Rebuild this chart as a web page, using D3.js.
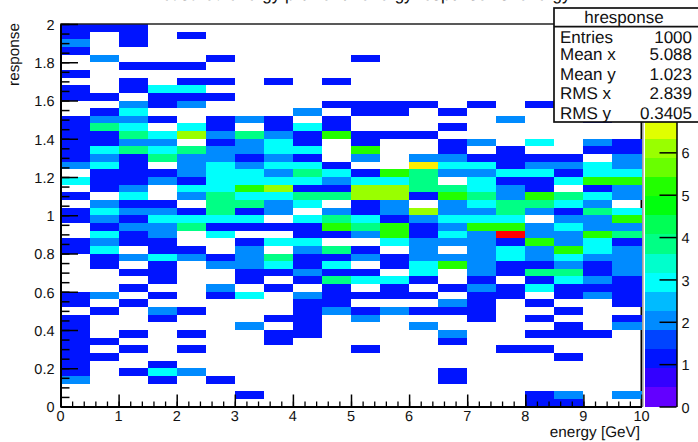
<!DOCTYPE html>
<html>
<head>
<meta charset="utf-8">
<script src="https://cdn.jsdelivr.net/npm/d3@7"></script>
<style>
  html, body { margin: 0; padding: 0; background: #fff; }
  svg { display: block; }
  text { font-family: "Liberation Sans", sans-serif; fill: #111; text-rendering: geometricPrecision; }
  .cell { shape-rendering: crispEdges; }
  .tick line, .domain { stroke: #000; }
</style>
</head>
<body>
<div id="chart"></div>
<script>
// bin counts of hresponse, top row is response 1.96-2.00, columns are energy 0-10 in 0.5 steps
const counts = [
  [1,1,1,0,0,0,0,0,0,0,0,0,0,0,0,0,0,0,0,0],
  [1,0,1,0,1,0,0,0,0,0,0,0,0,0,0,0,0,0,0,0],
  [2,0,1,0,0,0,0,0,0,0,0,0,0,0,0,0,0,0,0,0],
  [1,0,0,0,0,0,0,0,0,0,0,0,0,0,0,0,0,0,0,0],
  [0,2,0,0,0,1,0,0,0,0,1,0,0,0,0,0,0,0,0,0],
  [0,0,1,1,1,0,0,0,0,0,0,0,0,0,0,0,0,0,0,0],
  [1,0,0,0,0,0,0,0,0,0,0,0,0,0,0,0,0,0,0,0],
  [0,0,1,0,1,1,0,1,0,1,0,0,0,0,0,0,0,0,0,0],
  [1,0,1,3,3,0,0,0,0,0,0,0,0,0,0,0,0,0,0,0],
  [1,1,0,1,1,1,0,0,0,0,0,0,0,0,0,0,0,0,0,0],
  [0,0,2,1,2,0,0,0,0,1,1,1,1,0,1,0,1,0,0,0],
  [0,1,3,0,0,0,0,0,2,0,1,1,0,1,0,0,0,0,0,0],
  [1,2,2,1,0,1,2,1,0,1,0,0,0,0,0,2,0,0,1,0],
  [1,4,3,0,3,1,0,1,3,1,0,0,0,1,0,0,0,0,0,0],
  [1,1,4,3,6,2,4,2,1,5,1,1,1,0,0,0,0,0,0,0],
  [1,1,2,2,0,1,2,3,1,0,1,0,0,1,2,0,3,0,2,1],
  [1,3,4,3,4,2,2,3,3,0,5,0,0,1,0,1,0,0,1,1],
  [1,2,1,4,2,2,1,2,1,0,2,0,2,2,1,1,1,1,0,2],
  [2,3,1,0,2,3,2,3,3,1,0,0,7,3,3,1,2,2,3,2],
  [0,1,1,1,2,3,3,2,4,3,1,5,4,2,2,3,3,1,3,3],
  [3,1,1,2,1,3,3,3,3,2,3,3,4,0,3,1,1,3,5,5],
  [0,1,2,0,3,3,5,6,1,1,6,6,4,4,3,2,1,0,1,2],
  [1,0,3,0,2,4,3,3,4,4,6,6,1,5,4,2,5,4,3,2],
  [0,2,1,1,0,4,4,2,3,0,1,2,0,2,3,4,4,3,2,0],
  [1,3,2,2,1,4,1,2,0,2,1,2,6,2,2,4,2,1,4,3],
  [1,2,1,3,3,3,3,0,3,4,3,1,2,3,3,3,0,2,2,5],
  [0,1,2,2,4,1,1,1,1,5,4,5,1,2,5,5,2,3,2,2],
  [0,3,1,2,0,3,0,0,1,1,2,5,1,3,2,9,2,2,5,4],
  [1,2,1,1,0,0,1,3,3,0,0,3,2,2,2,1,5,2,3,1],
  [1,3,0,1,1,0,2,0,2,4,1,0,2,0,2,3,2,5,3,2],
  [0,1,2,3,2,1,2,4,1,1,2,1,2,2,2,3,2,3,2,2],
  [0,1,0,1,0,2,2,3,1,3,0,1,3,5,2,1,1,2,1,2],
  [0,0,1,1,0,0,1,1,2,1,1,0,3,0,2,1,4,4,1,2],
  [0,0,0,1,0,0,1,0,1,4,3,3,1,0,1,0,1,3,2,1],
  [0,0,1,0,0,2,0,1,0,1,0,1,0,1,2,1,3,1,1,1],
  [1,2,0,1,0,1,3,0,2,1,1,1,1,0,1,1,0,1,2,1],
  [1,0,1,0,0,0,0,0,1,1,0,0,0,2,1,0,1,0,0,1],
  [0,1,0,2,1,0,0,0,1,2,1,2,1,1,1,0,0,1,0,0],
  [1,0,0,1,0,0,0,1,1,0,2,0,0,0,1,0,1,0,0,1],
  [1,0,0,0,0,0,2,0,1,0,0,0,2,0,0,0,0,1,0,2],
  [1,0,1,0,1,0,0,1,1,0,0,0,0,2,0,0,1,1,1,0],
  [1,1,0,0,0,0,0,1,0,0,0,0,0,1,0,0,0,0,0,0],
  [1,0,1,0,1,0,0,0,0,0,1,0,0,0,0,1,1,0,0,0],
  [1,1,0,0,0,0,0,0,0,0,0,0,0,0,0,0,0,1,0,0],
  [1,0,0,1,0,0,0,0,0,0,0,0,0,0,0,0,0,0,0,0],
  [1,0,1,3,2,0,0,0,0,0,0,0,0,1,0,0,0,0,0,0],
  [2,0,0,1,0,1,0,0,0,0,0,0,0,1,0,0,0,0,0,0],
  [0,0,0,0,0,0,0,0,0,0,0,0,0,0,0,0,0,0,0,0],
  [0,0,0,0,0,0,1,0,0,0,0,0,0,0,0,0,1,2,0,2],
  [0,0,0,0,0,0,0,0,0,0,0,0,0,0,0,0,1,1,0,0]
];

const xTicks = [0,1,2,3,4,5,6,7,8,9,10];
const yTicks = [0,0.2,0.4,0.6,0.8,1,1.2,1.4,1.6,1.8,2];
const zTicks = [0,1,2,3,4,5,6];
const statNames = ["Entries","Mean x","Mean y","RMS x","RMS y"];
const statValues = ["1000","5.088","1.023","2.839","0.3405"];

const width = 698, height = 442;
const binW = 0.5, binH = 0.04;
const zMax = 9.03, nLevels = 20;
const statBaselines = [42.7, 60, 80, 99, 119];

// same as the old root rainbow palette, 50 colours picked down to 20 levels
const palette = d3.range(nLevels).map((l) => {
  const i = Math.floor((l + 0.99) * 50 / nLevels);
  return d3.hsl(280 - (i + 1) * 5.6, 1, 0.5).formatHex();
});

const x = d3.scaleLinear().domain([0, 10]).range([60.5, 641.5]);
const y = d3.scaleLinear().domain([0, 2]).range([406.5, 24]);
const z = d3.scaleLinear().domain([0, zMax]).range([406.5, 24]);
const level = (v) => Math.min(nLevels - 1, Math.floor(v / (zMax / nLevels)));

const svg = d3.select("#chart").append("svg").attr("width", width).attr("height", height);

// title, nearly all of it is cut off by the window top
svg.append("text")
  .attr("x", 148).attr("y", -0.5)
  .style("font-size", "17px")
  .text("Measured energy profile for energy response vs. energy");

// right frame edge sits under the cells
svg.append("line")
  .attr("x1", x(10)).attr("x2", x(10)).attr("y1", y(2)).attr("y2", y(0))
  .attr("stroke", "#000").attr("stroke-width", 2);

// cells
const cells = [];
counts.forEach((row, r) => row.forEach((v, c) => {
  if (v > 0) cells.push({ c: c, r: r, v: v });
}));
svg.append("g").selectAll("rect").data(cells).join("rect")
  .attr("class", "cell")
  .attr("x", (d) => x(d.c * binW))
  .attr("width", (d) => x((d.c + 1) * binW) - x(d.c * binW))
  .attr("y", (d) => y(2 - d.r * binH))
  .attr("height", (d) => y(2 - (d.r + 1) * binH) - y(2 - d.r * binH))
  .attr("fill", (d) => palette[level(d.v)]);

// top frame edge
svg.append("line")
  .attr("x1", x(0)).attr("x2", x(10)).attr("y1", y(2)).attr("y2", y(2))
  .attr("stroke", "#222").attr("stroke-width", 1.5);

// axes, ticks go inside the frame
const xMinor = d3.range(0, 10.01, 0.2);
const yMinor = d3.range(0, 2.001, 0.05);

svg.append("g").attr("transform", `translate(0,${y(0)})`)
  .call(d3.axisBottom(x).tickValues(xMinor).tickSize(-5).tickFormat(""))
  .call((g) => g.select(".domain").remove())
  .call((g) => g.selectAll("line").attr("stroke-width", 1.3));
const xAxis = svg.append("g").attr("transform", `translate(0,${y(0)})`)
  .call(d3.axisBottom(x).tickValues(xTicks).tickSize(-12).tickSizeOuter(0).tickFormat(d3.format("d")));
xAxis.selectAll("line").attr("stroke-width", 1.5);
xAxis.select(".domain").attr("stroke-width", 2);
xAxis.selectAll("text").attr("y", 14.5).attr("dy", 0).attr("dx", -0.5).style("font-size", "14.5px");

svg.append("g").attr("transform", `translate(${x(0)},0)`)
  .call(d3.axisLeft(y).tickValues(yMinor).tickSize(-9).tickFormat(""))
  .call((g) => g.select(".domain").remove())
  .call((g) => g.selectAll("line").attr("stroke-width", 1.5));
const yAxis = svg.append("g").attr("transform", `translate(${x(0)},0)`)
  .call(d3.axisLeft(y).tickValues(yTicks).tickSize(-17.5).tickSizeOuter(0).tickFormat(d3.format("")));
yAxis.selectAll("line").attr("stroke-width", 1.5);
yAxis.select(".domain").attr("stroke-width", 2);
yAxis.selectAll("text").attr("x", -6).attr("y", 0.8).style("font-size", "14.5px");

svg.append("text")
  .attr("x", 640).attr("y", 436.7)
  .attr("text-anchor", "end")
  .style("font-size", "15.3px")
  .text("energy [GeV]");

svg.append("text")
  .attr("transform", "translate(18.5,23) rotate(-90)")
  .attr("text-anchor", "end")
  .style("font-size", "15.3px")
  .text("response");

// colour bar
const barL = 644.5, barR = 676.5;
svg.append("g").selectAll("rect").data(palette).join("rect")
  .attr("class", "cell")
  .attr("x", barL)
  .attr("width", barR - barL)
  .attr("y", (d, i) => z((i + 1) * zMax / nLevels))
  .attr("height", (d, i) => z(i * zMax / nLevels) - z((i + 1) * zMax / nLevels))
  .attr("fill", (d) => d);

svg.append("line")
  .attr("x1", 643).attr("x2", 643).attr("y1", y(2)).attr("y2", y(0))
  .attr("stroke", "#aaa").attr("stroke-width", 1.5);

const zAxis = svg.append("g").attr("transform", `translate(${barR},0)`)
  .call(d3.axisRight(z).tickValues(zTicks).tickSize(-17).tickSizeOuter(0).tickFormat(d3.format("d")));
zAxis.selectAll("line").attr("stroke-width", 1.5);
zAxis.select(".domain").attr("stroke-width", 1.5);
zAxis.selectAll("text").attr("x", 5).attr("y", 1).style("font-size", "14.5px");

// stats box
const box = svg.append("g");
box.append("rect")
  .attr("x", 554).attr("y", 8).attr("width", 160).attr("height", 114)
  .attr("fill", "#fff").attr("stroke", "#111").attr("stroke-width", 1.7);
box.append("line")
  .attr("x1", 554).attr("x2", 698).attr("y1", 26.7).attr("y2", 26.7)
  .attr("stroke", "#111").attr("stroke-width", 1.7);
box.append("text")
  .attr("x", 624).attr("y", 22.5)
  .attr("text-anchor", "middle")
  .style("font-size", "17px")
  .text("hresponse");

box.selectAll(".stat-name").data(statNames).join("text")
  .attr("class", "stat-name")
  .attr("x", 560).attr("y", (d, i) => statBaselines[i])
  .style("font-size", "17px")
  .text((d) => d);
box.selectAll(".stat-value").data(statValues).join("text")
  .attr("class", "stat-value")
  .attr("x", 692).attr("y", (d, i) => statBaselines[i])
  .attr("text-anchor", "end")
  .style("font-size", "17px")
  .text((d) => d);
</script>
</body>
</html>
